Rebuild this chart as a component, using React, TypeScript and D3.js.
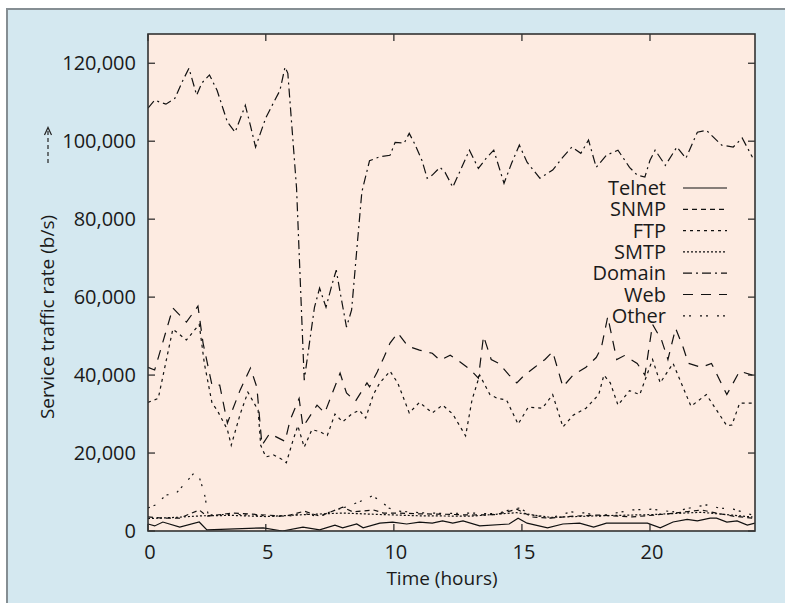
import React from 'react'
import * as d3 from 'd3'

// readings taken off the chart: [hour, bits per second]
const domain: [number, number][] = [
  [0.4, 108500], [0.66, 110500], [1.1, 109500], [1.45, 111000], [1.76, 115600], [2.0, 118700],
  [2.3, 111800], [2.5, 114900], [2.8, 117000], [3.1, 113000], [3.5, 104900], [3.8, 102300],
  [4.2, 109200], [4.4, 104000], [4.6, 98500], [5.0, 106000], [5.35, 110500], [5.55, 113000],
  [5.75, 119000], [5.86, 117400], [6.05, 101000], [6.2, 88000], [6.5, 38700], [6.9, 57400],
  [7.1, 62300], [7.35, 57400], [7.6, 63600], [7.75, 66900], [7.9, 61300], [8.15, 52300],
  [8.35, 56700], [8.55, 72000], [8.75, 87000], [9.05, 95000], [9.45, 96000], [9.85, 96400],
  [10.05, 99700], [10.4, 99500], [10.6, 102000], [10.8, 99500], [11.1, 95000], [11.3, 90500],
  [11.5, 91300], [11.8, 93300], [12.0, 92000], [12.3, 88200], [12.65, 93300], [12.95, 97700],
  [13.3, 93000], [13.6, 95600], [13.9, 97700], [14.3, 89200], [14.6, 94400], [14.9, 99000],
  [15.2, 94600], [15.7, 90500], [16.2, 92600], [16.6, 95900], [16.95, 98500], [17.3, 96900],
  [17.6, 100300], [17.9, 93300], [18.3, 96400], [18.75, 97700], [19.2, 93300], [19.5, 91300],
  [19.8, 90800], [20.0, 95100], [20.2, 97700], [20.6, 93800], [21.05, 98500], [21.4, 95600],
  [21.85, 102300], [22.2, 102800], [22.8, 99000], [23.25, 98500], [23.6, 100800], [24.0, 95900],
]

const web: [number, number][] = [
  [0.4, 42000], [0.66, 41300], [1.37, 57200], [1.9, 53600], [2.35, 57700], [2.55, 48200],
  [2.9, 37400], [3.2, 37400], [3.5, 27700], [4.0, 36200], [4.4, 41800], [4.65, 36900],
  [4.85, 22000], [5.15, 25000], [5.75, 23000], [5.95, 28500], [6.3, 34000], [6.45, 26700],
  [7.0, 32300], [7.3, 30300], [7.9, 40500], [8.15, 35400], [8.5, 33300], [8.95, 38000],
  [9.05, 37000], [9.35, 40800], [9.6, 44400], [9.85, 48200], [10.15, 50800], [10.55, 47400],
  [11.0, 46400], [11.5, 45600], [11.8, 43800], [12.2, 45100], [12.6, 43300], [13.0, 41300],
  [13.3, 39200], [13.5, 50000], [13.8, 44000], [14.1, 43000], [14.5, 40000], [14.8, 38000],
  [15.1, 40000], [15.5, 42000], [15.9, 44000], [16.2, 46000], [16.6, 37000], [17.0, 40000],
  [17.5, 42000], [17.9, 44500], [18.1, 47000], [18.35, 55000], [18.7, 44000], [19.0, 45000],
  [19.5, 43000], [19.8, 40000], [20.1, 53000], [20.45, 49000], [20.7, 44000], [21.0, 52000],
  [21.3, 47000], [21.5, 43000], [22.0, 42000], [22.4, 43000], [22.7, 39000], [23.0, 35000],
  [23.5, 41000], [24.0, 40000],
]

const ftp: [number, number][] = [
  [0.4, 33000], [0.8, 34000], [1.37, 51800], [1.9, 49000], [2.4, 53000], [2.6, 43000],
  [2.9, 32800], [3.1, 31000], [3.5, 26000], [3.65, 22000], [4.0, 30000], [4.3, 35600],
  [4.7, 31000], [4.8, 22000], [5.0, 19000], [5.3, 19500], [5.6, 18500], [5.8, 17500],
  [6.05, 23000], [6.25, 27000], [6.5, 21500], [6.8, 26000], [7.1, 25500], [7.4, 24500],
  [7.7, 30000], [8.0, 28000], [8.35, 30000], [8.65, 31000], [8.9, 29000], [9.2, 35000],
  [9.45, 38000], [9.85, 41000], [10.15, 38000], [10.6, 30300], [11.0, 33000], [11.5, 30300],
  [11.9, 32300], [12.3, 30000], [12.8, 24400], [13.05, 33600], [13.35, 40000], [13.75, 35000],
  [14.05, 34000], [14.4, 33600], [14.85, 27400], [15.25, 31800], [15.8, 31500], [16.2, 35000],
  [16.6, 26700], [17.0, 29700], [17.5, 31500], [18.0, 35000], [18.2, 40000], [18.45, 38000],
  [18.75, 32300], [19.2, 36000], [19.6, 35000], [20.1, 44000], [20.4, 38000], [20.9, 43000],
  [21.6, 32000], [22.2, 35000], [22.4, 33000], [23.0, 27000], [23.2, 27200], [23.5, 32800],
  [24.0, 32800],
]

const other: [number, number][] = [
  [0.4, 5900], [0.7, 6700], [1.1, 9200], [1.5, 9700], [1.9, 12600], [2.2, 14900], [2.4, 13800],
  [2.6, 9700], [2.75, 4100], [3.7, 4300], [5.0, 3900], [5.8, 3700], [6.5, 4500], [7.1, 3600],
  [7.6, 5200], [8.15, 6200], [8.8, 7900], [9.15, 9000], [9.45, 7900], [9.8, 5900], [10.2, 5100],
  [11.0, 4700], [12.0, 4500], [13.0, 4600], [14.0, 4400], [14.5, 5400], [14.9, 5900], [15.4, 4100],
  [16.1, 3300], [16.9, 4900], [17.5, 4600], [18.0, 3800], [19.3, 5400], [20.1, 5600], [20.9, 4900],
  [21.55, 5900], [22.2, 6700], [22.7, 5900], [23.25, 5600], [24.0, 4100],
]

const snmp: [number, number][] = [
  [0.4, 3600], [0.98, 3300], [1.64, 3300], [2.4, 5400], [2.7, 3800], [3.7, 4600], [5.0, 4100],
  [5.8, 3800], [6.5, 5100], [7.1, 3800], [8.0, 6100], [8.4, 4900], [9.2, 5400], [9.6, 4600],
  [10.2, 4600], [11.0, 4400], [12.0, 4300], [13.0, 4100], [14.0, 4200], [14.8, 5600], [15.4, 3600],
  [16.1, 3300], [17.0, 3800], [18.0, 4100], [19.3, 3600], [20.7, 4400], [22.0, 5400], [22.6, 4600],
  [23.25, 3800], [24.0, 3300],
]

const smtp: [number, number][] = [
  [0.4, 3200], [1.5, 3500], [2.5, 3900], [3.7, 4000], [5.0, 3700], [6.5, 4200], [8.0, 4600],
  [9.6, 4200], [11.0, 3900], [13.0, 3800], [14.8, 4700], [16.1, 3500], [18.0, 3900], [20.0, 4200],
  [22.0, 4800], [24.0, 3600],
]

const telnet: [number, number][] = [
  [0.4, 1800], [0.66, 1300], [0.98, 2300], [1.64, 1000], [2.4, 2300], [2.7, 300], [4.9, 800],
  [5.65, 0], [6.45, 1000], [7.1, 300], [7.7, 1500], [8.0, 800], [8.55, 1800], [8.8, 800],
  [9.45, 2000], [9.95, 2300], [10.5, 1800], [11.0, 2300], [11.5, 2000], [11.9, 2600], [12.3, 2000],
  [12.7, 2600], [13.35, 1300], [14.5, 1800], [14.85, 3300], [15.2, 2000], [16.0, 800], [16.6, 1800],
  [17.25, 2000], [17.8, 1000], [18.3, 2000], [19.9, 2000], [20.4, 800], [20.9, 2300], [21.45, 3000],
  [21.85, 2600], [22.35, 3300], [22.6, 3300], [23.0, 2300], [23.4, 2600], [23.8, 1500], [24.1, 2000],
]

const seriesNames = ['Telnet', 'SNMP', 'FTP', 'SMTP', 'Domain', 'Web', 'Other']
const seriesData = [telnet, snmp, ftp, smtp, domain, web, other]
const dashes = ['', '5,4', '3,4', '2,2', '9,4,2,4', '10,8', '2,4,2,9']

const xTicks = [0.4, 5, 10, 15, 20]
const yTicks = [0, 20000, 40000, 60000, 80000, 100000, 120000]

const FONT = '"Open Sans", "Noto Sans", sans-serif'

export default function App() {
  const left = 148, right = 755, top = 34, bottom = 531
  const x = d3.scaleLinear().domain([0.4, 24.1]).range([left, right])
  const y = d3.scaleLinear().domain([0, 127500]).range([bottom, top])
  const line = d3.line<[number, number]>().x(d => x(d[0])).y(d => y(d[1]))
  const fmt = d3.format(',')

  return (
    <svg width={785} height={603} style={{ position: 'absolute', left: 0, top: 0 }}>
      <rect x={0} y={0} width={785} height={603} fill="#ffffff" />
      <rect x={7} y={9} width={800} height={620} fill="#d4e8f0" stroke="#858e93" strokeWidth={2} />
      <rect x={left} y={top} width={right - left} height={bottom - top} fill="#fdebe1" />

      <defs>
        <clipPath id="plotclip">
          <rect x={left} y={top} width={right - left} height={bottom - top} />
        </clipPath>
      </defs>
      <g clipPath="url(#plotclip)">
        {seriesData.map((s, i) => (
          <path key={seriesNames[i]} d={line(s) || ''} fill="none" stroke="#111"
            strokeWidth={1.2} strokeDasharray={dashes[i] || undefined} />
        ))}
      </g>

      {/* ticks, mirrored and pointing inward */}
      {xTicks.map(t => (
        <g key={'x' + t}>
          <line x1={x(t)} x2={x(t)} y1={bottom} y2={bottom - 7} stroke="#222" strokeWidth={1.2} />
          <line x1={x(t)} x2={x(t)} y1={top} y2={top + 7} stroke="#222" strokeWidth={1.2} />
          <text x={x(t) + 2} y={559} textAnchor="middle" fontFamily={FONT} fontSize={20} fill="#1a1a1a">
            {Math.floor(t)}
          </text>
        </g>
      ))}
      {yTicks.map(t => (
        <g key={'y' + t}>
          <line x1={left} x2={left + 7} y1={y(t)} y2={y(t)} stroke="#222" strokeWidth={1.2} />
          <line x1={right} x2={right - 7} y1={y(t)} y2={y(t)} stroke="#222" strokeWidth={1.2} />
          <text x={136} y={y(t) + 7} textAnchor="end" fontFamily={FONT} fontSize={20} fill="#1a1a1a">
            {fmt(t)}
          </text>
        </g>
      ))}

      <rect x={left} y={top} width={right - left} height={bottom - top} fill="none" stroke="#333" strokeWidth={1.6} />

      {/* legend */}
      {seriesNames.map((n, i) => (
        <g key={'lg' + n} transform={`translate(0,${188 + i * 21.3})`}>
          <text x={666} y={7} textAnchor="end" fontFamily={FONT} fontSize={20} fill="#1a1a1a">{n}</text>
          <line x1={683} x2={727} y1={0} y2={0} stroke="#111" strokeWidth={1.2}
            strokeDasharray={dashes[i] || undefined} />
        </g>
      ))}

      {/* axis titles */}
      <text x={442} y={585} textAnchor="middle" fontFamily={FONT} fontSize={19} fill="#1a1a1a">Time (hours)</text>
      <text transform="translate(54,317) rotate(-90)" textAnchor="middle" fontFamily={FONT} fontSize={19} fill="#1a1a1a">
        Service traffic rate (b/s)
      </text>
      <line x1={48} x2={48} y1={163} y2={130} stroke="#222" strokeWidth={1.2} strokeDasharray="4,3" />
      <polyline points="44.5,135 48,127.5 51.5,135" fill="none" stroke="#222" strokeWidth={1.2} />
    </svg>
  )
}
